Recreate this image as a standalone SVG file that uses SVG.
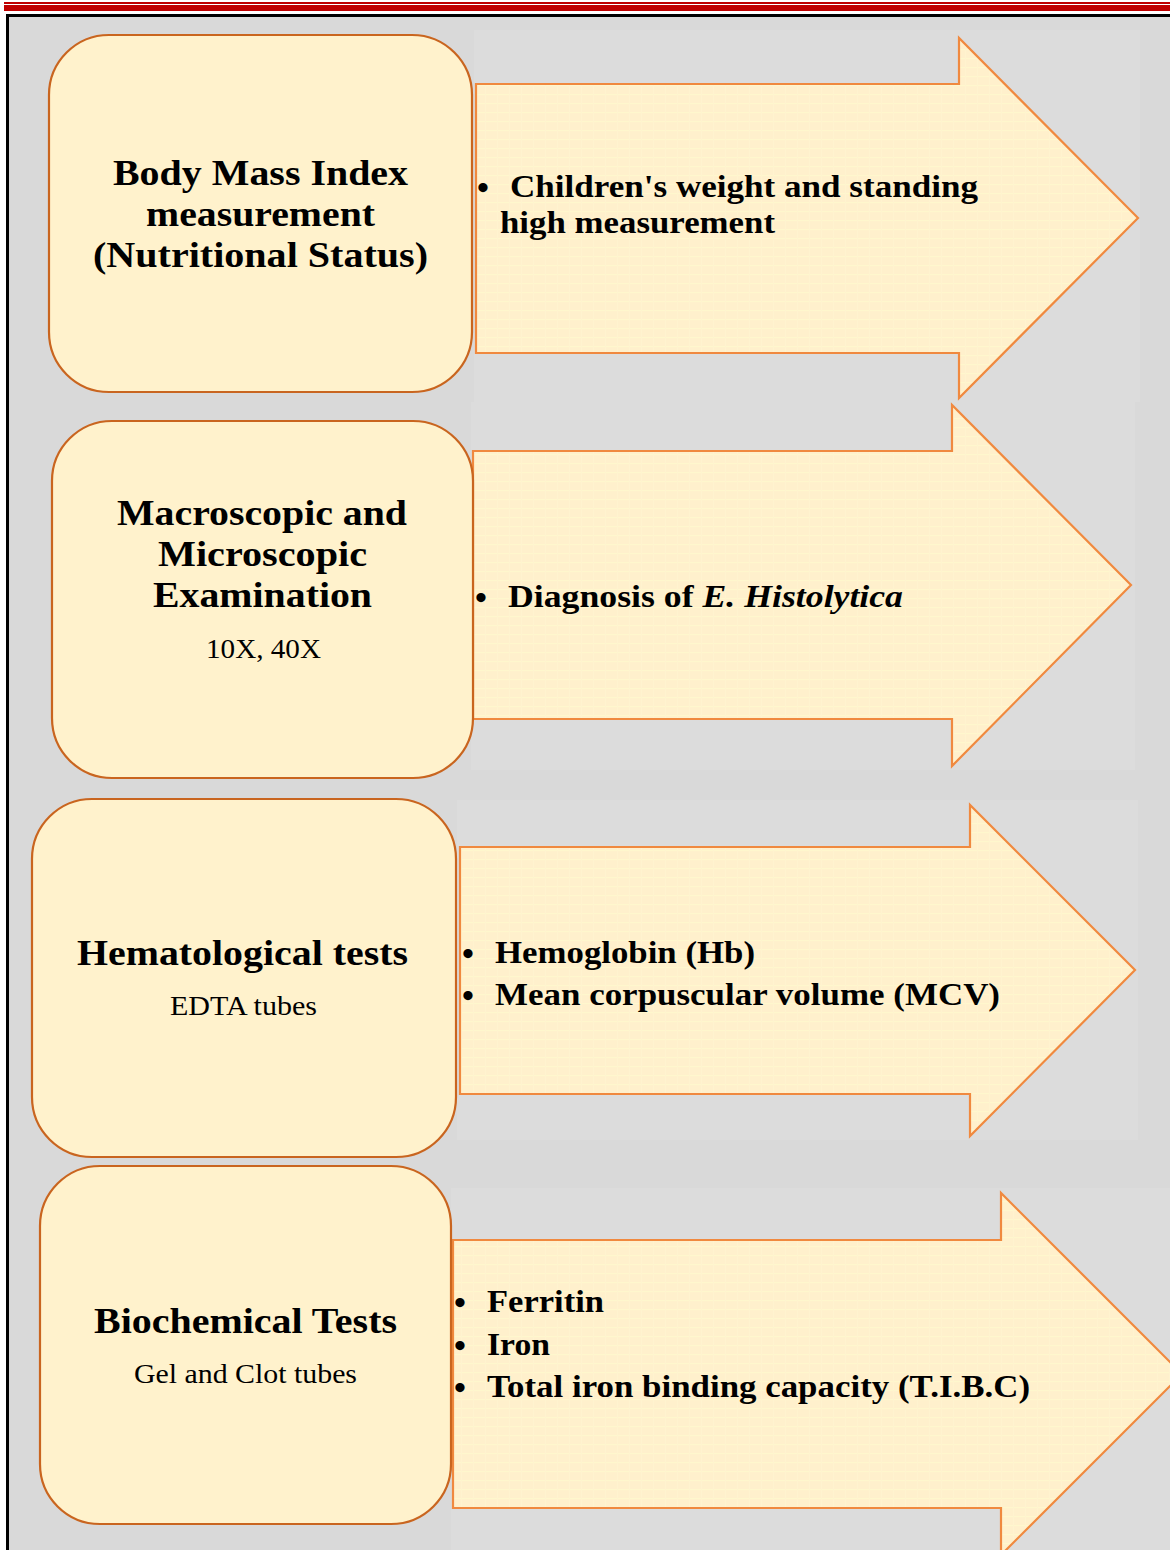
<svg xmlns="http://www.w3.org/2000/svg" width="1170" height="1550" viewBox="0 0 1170 1550">
<style>
.box{fill:#fff2cc;stroke:#c9651f;stroke-width:2.2}
.arrow{fill:url(#tex);stroke:#f0893f;stroke-width:2.2;stroke-linejoin:miter}
.back{fill:#dcdcdc}
.title{font-family:"Liberation Serif","Times New Roman",serif;font-weight:bold;font-size:36px;fill:#000}
.sub{font-family:"Liberation Serif","Times New Roman",serif;font-size:28px;fill:#000}
.item{font-family:"Liberation Serif","Times New Roman",serif;font-weight:bold;font-size:32px;fill:#000}
.bul{font-family:"Liberation Serif","Times New Roman",serif;font-weight:bold;font-size:34px;fill:#000}
</style>
<defs>
<pattern id="tex" width="12" height="9" patternUnits="userSpaceOnUse">
<rect width="12" height="9" fill="#fff0cc"/>
<rect y="4" width="12" height="1.2" fill="#fff7cd"/>
<rect x="5" y="0" width="1" height="9" fill="#fff3cf"/>
</pattern>
</defs>
<rect width="1170" height="1550" fill="#ffffff"/>
<rect x="4" y="2" width="1166" height="2" fill="#c00000"/>
<rect x="4" y="5" width="1166" height="6" fill="#c00000"/>
<rect x="9" y="17" width="1161" height="1533" fill="#d9d9d9"/>
<rect x="6" y="14" width="1164" height="3" fill="#000"/>
<rect x="6" y="14" width="3" height="1536" fill="#000"/>
<g id="backdrops">
<rect class="back" x="474" y="30" width="666" height="372"/>
<rect class="back" x="471" y="402" width="664" height="368"/>
<rect class="back" x="457" y="800" width="681" height="340"/>
<rect class="back" x="451" y="1188" width="719" height="362"/>
</g>
<g id="connectors">
<path id="arrow1" class="arrow" d="M476,84 H959 V38 L1138,218 L959,398 V353 H476 Z"/>
<path id="arrow2" class="arrow" d="M473,451 H952 V405 L1131,585 L952,766 V719 H473 Z"/>
<path id="arrow3" class="arrow" d="M460,847 H970 V805 L1135,970 L970,1136 V1094 H460 Z"/>
<path id="arrow4" class="arrow" d="M453,1240 H1001 V1193 L1182,1374 L1001,1555 V1508 H453 Z"/>
</g>
<g id="arrow1-text">
<text class="bul" x="477" y="199">•</text>
<text class="item" x="510" y="197" textLength="468" lengthAdjust="spacingAndGlyphs">Children's weight and standing</text>
<text class="item" x="500" y="233" textLength="275" lengthAdjust="spacingAndGlyphs">high measurement</text>
</g>
<g id="arrow2-text">
<text class="bul" x="475" y="609">•</text>
<text class="item" x="508" y="607" textLength="395" lengthAdjust="spacingAndGlyphs">Diagnosis of <tspan font-style="italic">E. Histolytica</tspan></text>
</g>
<g id="arrow3-text">
<text class="bul" x="462" y="965">•</text>
<text class="item" x="495" y="963" textLength="260" lengthAdjust="spacingAndGlyphs">Hemoglobin (Hb)</text>
<text class="bul" x="462" y="1007">•</text>
<text class="item" x="495" y="1005" textLength="505" lengthAdjust="spacingAndGlyphs">Mean corpuscular volume (MCV)</text>
</g>
<g id="arrow4-text">
<text class="bul" x="454" y="1314">•</text>
<text class="item" x="487" y="1312" textLength="117" lengthAdjust="spacingAndGlyphs">Ferritin</text>
<text class="bul" x="454" y="1357">•</text>
<text class="item" x="487" y="1355" textLength="63" lengthAdjust="spacingAndGlyphs">Iron</text>
<text class="bul" x="454" y="1399">•</text>
<text class="item" x="487" y="1397" textLength="543" lengthAdjust="spacingAndGlyphs">Total iron binding capacity (T.I.B.C)</text>
</g>
<g id="node-bmi">
<rect class="box" x="49" y="35" width="423" height="357" rx="60" ry="60"/>
<text class="title" x="113" y="185" textLength="295" lengthAdjust="spacingAndGlyphs">Body Mass Index</text>
<text class="title" x="146" y="226" textLength="229" lengthAdjust="spacingAndGlyphs">measurement</text>
<text class="title" x="93" y="267" textLength="335" lengthAdjust="spacingAndGlyphs">(Nutritional Status)</text>
</g>
<g id="node-exam">
<rect class="box" x="52" y="421" width="421" height="357" rx="60" ry="60"/>
<text class="title" x="117" y="525" textLength="290" lengthAdjust="spacingAndGlyphs">Macroscopic and</text>
<text class="title" x="158" y="566" textLength="209" lengthAdjust="spacingAndGlyphs">Microscopic</text>
<text class="title" x="153" y="607" textLength="219" lengthAdjust="spacingAndGlyphs">Examination</text>
<text class="sub" x="206" y="658" textLength="115" lengthAdjust="spacingAndGlyphs">10X, 40X</text>
</g>
<g id="node-hema">
<rect class="box" x="32" y="799" width="424" height="358" rx="60" ry="60"/>
<text class="title" x="77" y="965" textLength="331" lengthAdjust="spacingAndGlyphs">Hematological tests</text>
<text class="sub" x="170" y="1015" textLength="147" lengthAdjust="spacingAndGlyphs">EDTA tubes</text>
</g>
<g id="node-bio">
<rect class="box" x="40" y="1166" width="411" height="358" rx="60" ry="60"/>
<text class="title" x="94" y="1333" textLength="303" lengthAdjust="spacingAndGlyphs">Biochemical Tests</text>
<text class="sub" x="134" y="1383" textLength="223" lengthAdjust="spacingAndGlyphs">Gel and Clot tubes</text>
</g>
</svg>
